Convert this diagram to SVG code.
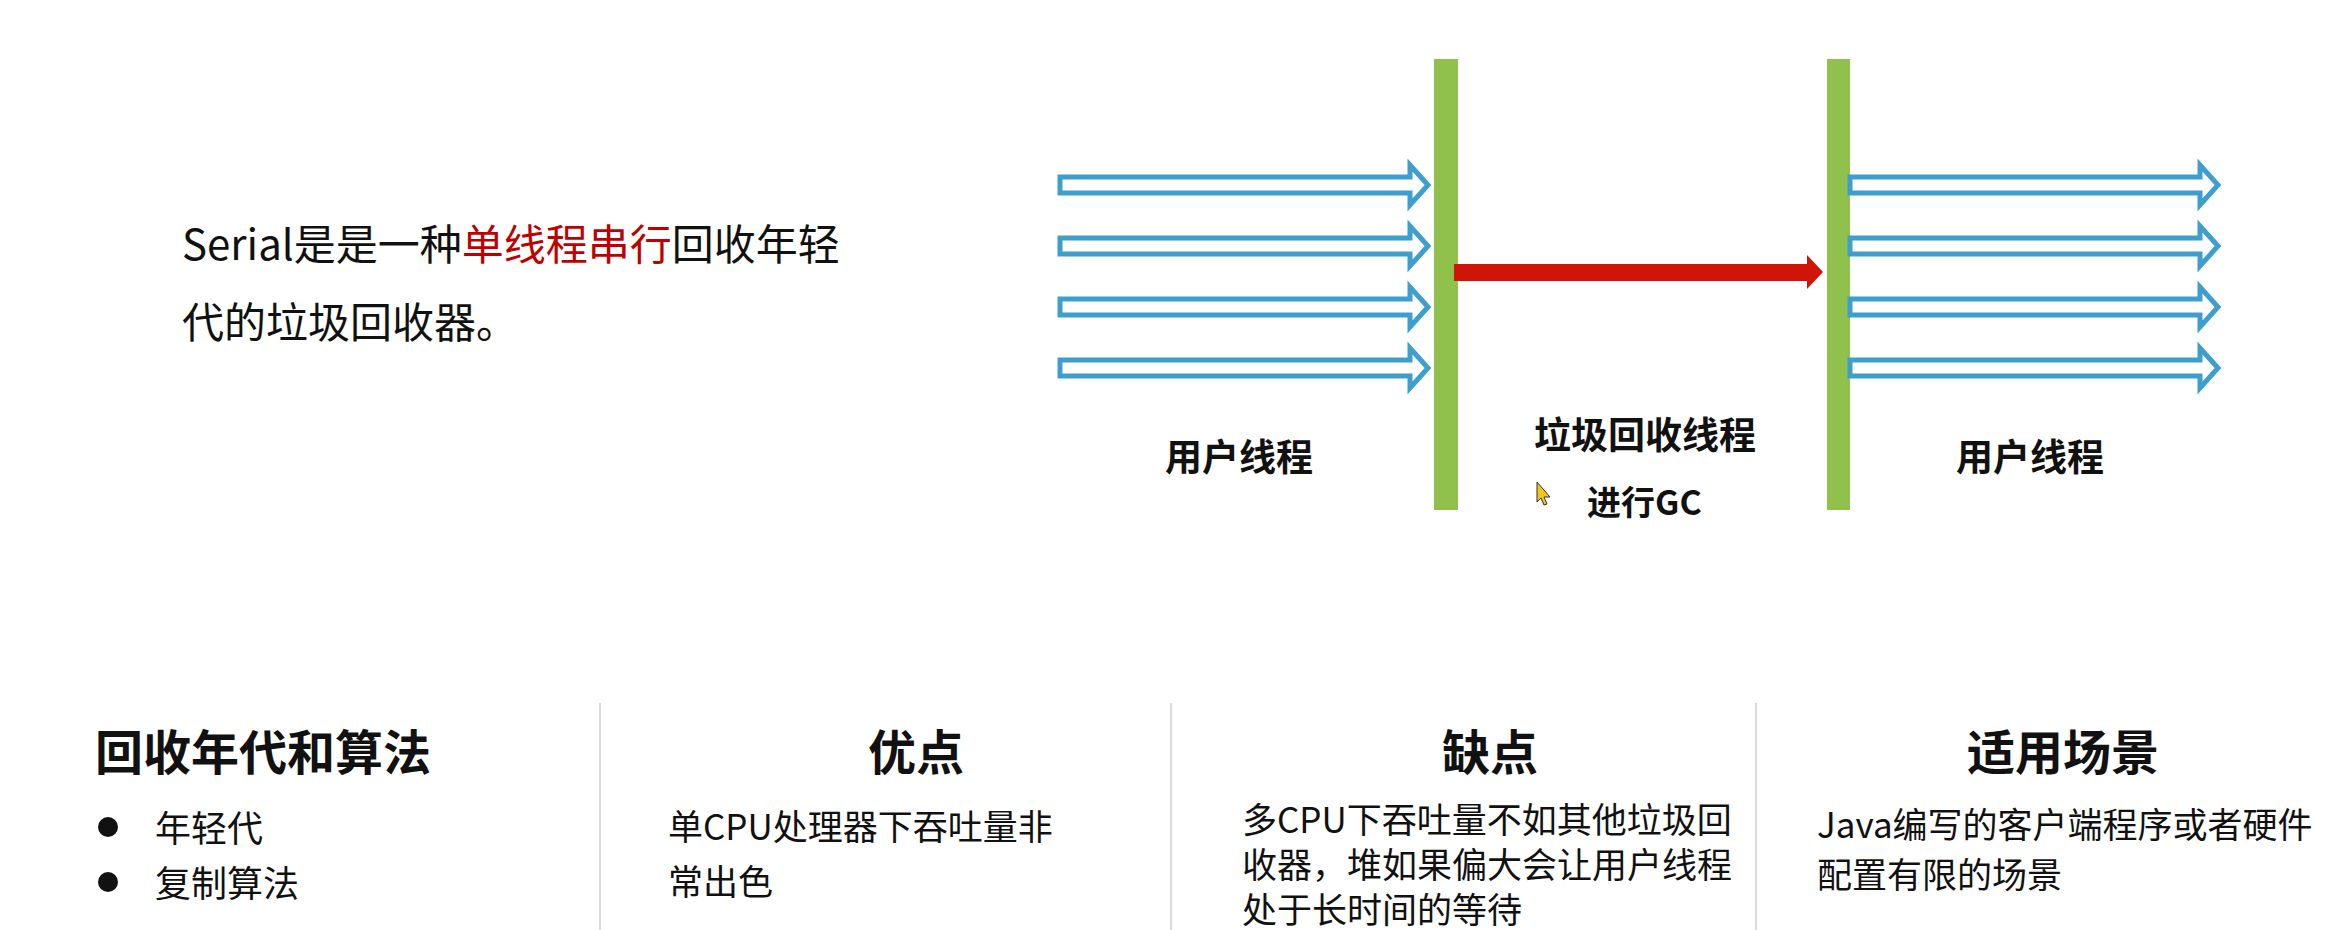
<svg xmlns="http://www.w3.org/2000/svg" width="2333" height="930" viewBox="0 0 2333 930">
<style>
text{font-family:"Noto Sans CJK SC","Noto Sans",sans-serif;fill:#111}
.lbl{font-size:37px;font-weight:bold}
.head{font-size:48px;font-weight:bold}
.body{font-size:35px}
.intro{font-size:42px}
.red{fill:#C00000}
.bar{fill:#8FC14C}
.hollow{fill:#fff;stroke:#3E9FCF;stroke-width:5;stroke-linejoin:miter}
.sep{stroke:#DADADA;stroke-width:2}
</style>
<defs>
<path id="ha" d="M0,-8 H350 V-20 L368,0 L350,20 V8 H0 Z"/>
</defs>
<rect width="2333" height="930" fill="#fff"/>

<g id="intro">
<text class="intro" x="182" y="260">Serial是是一种<tspan class="red">单线程串行</tspan>回收年轻</text>
<text class="intro" x="182" y="338">代的垃圾回收器。</text>
</g>

<g id="bar-left"><rect class="bar" x="1434" y="59" width="24" height="451"/></g>
<g id="bar-right"><rect class="bar" x="1827" y="59" width="23" height="451"/></g>

<g id="connectors">
<use href="#ha" class="hollow" transform="translate(1060,185)"/>
<use href="#ha" class="hollow" transform="translate(1060,246)"/>
<use href="#ha" class="hollow" transform="translate(1060,307)"/>
<use href="#ha" class="hollow" transform="translate(1060,368)"/>
<use href="#ha" class="hollow" transform="translate(1850,185)"/>
<use href="#ha" class="hollow" transform="translate(1850,246)"/>
<use href="#ha" class="hollow" transform="translate(1850,307)"/>
<use href="#ha" class="hollow" transform="translate(1850,368)"/>
<path d="M1454,264 H1807 V255 L1823,272 L1807,289 V281 H1454 Z" fill="#D01508"/>
</g>

<g id="label-user-left"><text class="lbl" x="1239" y="471" text-anchor="middle">用户线程</text></g>
<g id="label-gc"><text class="lbl" x="1645" y="449" text-anchor="middle">垃圾回收线程</text></g>
<g id="label-gc-sub"><text class="lbl" x="1587" y="515" style="font-size:34px">进行GC</text></g>
<g id="label-user-right"><text class="lbl" x="2030" y="471" text-anchor="middle">用户线程</text></g>
<g id="cursor"><path d="M1537,482 V502 L1541,498 L1544,505 L1547,504 L1544,497 L1550,497 Z" fill="#F5C518" stroke="#333" stroke-width="1"/></g>

<g id="separators">
<line class="sep" x1="600" y1="703" x2="600" y2="930"/>
<line class="sep" x1="1171" y1="703" x2="1171" y2="930"/>
<line class="sep" x1="1756" y1="703" x2="1756" y2="930"/>
</g>

<g id="col-generation">
<text class="head" x="95" y="770">回收年代和算法</text>
<circle cx="108" cy="827" r="10" fill="#111"/>
<circle cx="108" cy="882" r="10" fill="#111"/>
<text class="body" x="155" y="842" style="font-size:36px">年轻代</text>
<text class="body" x="155" y="897" style="font-size:36px">复制算法</text>
</g>

<g id="col-pros">
<text class="head" x="916" y="770" text-anchor="middle">优点</text>
<text class="body" x="668" y="840">单CPU处理器下吞吐量非</text>
<text class="body" x="668" y="895">常出色</text>
</g>

<g id="col-cons">
<text class="head" x="1490" y="770" text-anchor="middle">缺点</text>
<text class="body" x="1242" y="833">多CPU下吞吐量不如其他垃圾回</text>
<text class="body" x="1242" y="878">收器，堆如果偏大会让用户线程</text>
<text class="body" x="1242" y="923">处于长时间的等待</text>
</g>

<g id="col-scenario">
<text class="head" x="2063" y="770" text-anchor="middle">适用场景</text>
<text class="body" x="1817" y="838">Java编写的客户端程序或者硬件</text>
<text class="body" x="1817" y="888">配置有限的场景</text>
</g>
</svg>
